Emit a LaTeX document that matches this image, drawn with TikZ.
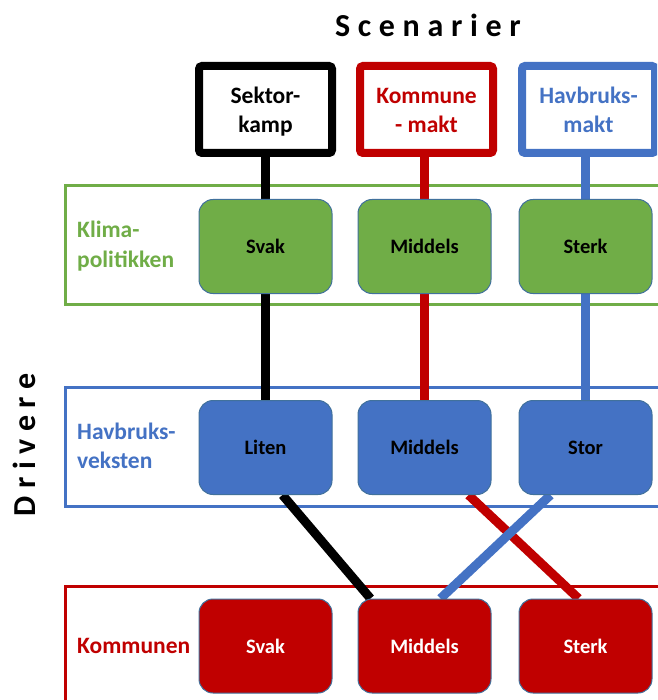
\documentclass[tikz,border=0pt]{standalone}
\usepackage{fontspec}
\setmainfont{Carlito}

\definecolor{cgreen}{HTML}{70AD47}
\definecolor{cblue}{HTML}{4472C4}
\definecolor{cred}{HTML}{C00000}
\definecolor{cedge}{HTML}{41719C}

\pgfdeclarelayer{frames}
\pgfdeclarelayer{links}
\pgfsetlayers{frames,links,main}

\tikzset{
  scenbox/.style={draw, line width=8pt, rounded corners=3pt, fill=white,
    minimum width=133pt, minimum height=87pt, inner sep=0pt},
  scentext/.style={font=\fontsize{23.5}{29}\selectfont\bfseries, inner sep=0pt,
    align=center, anchor=base},
  rowframe/.style={line width=3pt},
  rowlabel/.style={font=\fontsize{23.5}{29}\selectfont\bfseries, inner sep=0pt,
    align=left, anchor=base west},
  choice/.style={draw=cedge, line width=1pt, rounded corners=14pt,
    minimum width=133pt, minimum height=94pt, inner sep=0pt,
    font=\fontsize{20.5}{24}\selectfont\bfseries},
  link/.style={line width=9pt},
  heading/.style={font=\fontsize{32}{38}\selectfont\bfseries\addfontfeature{LetterSpace=24},
    inner sep=0pt, anchor=base}
}

\begin{document}
\begin{tikzpicture}[x=1pt, y=-1pt]
\useasboundingbox (0,0) rectangle (657,700);
\begin{pgfonlayer}{frames}
  \fill[white] (0,0) rectangle (657,700);
\end{pgfonlayer}
\clip (0,0) rectangle (657,700);

% headings
\node[heading] (title) at (428,37) {Scenarier};
\node[heading, rotate=90] (drv) at (35,445) {Drivere};

% driver rows
\begin{pgfonlayer}{frames}
  \draw[cgreen, rowframe] (65,186) rectangle (720,304);
  \draw[cblue, rowframe] (65,387) rectangle (720,506);
  \draw[cred, rowframe] (65,586) rectangle (720,760);
\end{pgfonlayer}

\node[rowlabel, text=cgreen] (lklima) at (77,267) {Klima-\\politikken};
\node[rowlabel, text=cblue] (lhav) at (77,468) {Havbruks-\\veksten};
\node[rowlabel, text=cred] (lkom) at (77,653) {Kommunen};

% scenario boxes
\node[scenbox, draw=black] (sk) at (265.5,109.5) {};
\node[scenbox, draw=cred] (km) at (426.5,109.5) {};
\node[scenbox, draw=cblue] (hm) at (588.5,109.5) {};
\node[scentext] (sktxt) at (265.5,133) {Sektor-\\kamp};
\node[scentext, text=cred] (kmtxt) at (426.5,133) {Kommune\\- makt};
\node[scentext, text=cblue] (hmtxt) at (588.5,133) {Havbruks-\\makt};

% driver values
\node[choice, fill=cgreen] (gsvak) at (265.5,246.5) {Svak};
\node[choice, fill=cgreen] (gmid) at (424.5,246.5) {Middels};
\node[choice, fill=cgreen] (gsterk) at (585.5,246.5) {Sterk};

\node[choice, fill=cblue] (liten) at (265.5,447.5) {Liten};
\node[choice, fill=cblue] (bmid) at (424.5,447.5) {Middels};
\node[choice, fill=cblue] (stor) at (585.5,447.5) {Stor};

\node[choice, fill=cred, text=white] (ksvak) at (265.5,646) {Svak};
\node[choice, fill=cred, text=white] (kmid) at (424.5,646) {Middels};
\node[choice, fill=cred, text=white] (ksterk) at (585.5,646) {Sterk};

% scenario paths, behind the boxes
\begin{pgfonlayer}{links}
  \draw[link, black] (sk.south) -- (sk.south |- liten.north);
  \draw[link, cred] (km.south -| bmid.north) -- (bmid.north);
  \draw[link, cblue] (hm.south -| stor.north) -- (stor.north);

  \draw[link, cred] ([xshift=44pt]bmid.south) -- ([xshift=-7pt]ksterk.north);
  \draw[link, black] ([xshift=17pt]liten.south) -- ([xshift=-54pt]kmid.north);
  \draw[link, cblue] ([xshift=-35pt]stor.south) -- ([xshift=16pt]kmid.north);
\end{pgfonlayer}
\end{tikzpicture}
\end{document}
